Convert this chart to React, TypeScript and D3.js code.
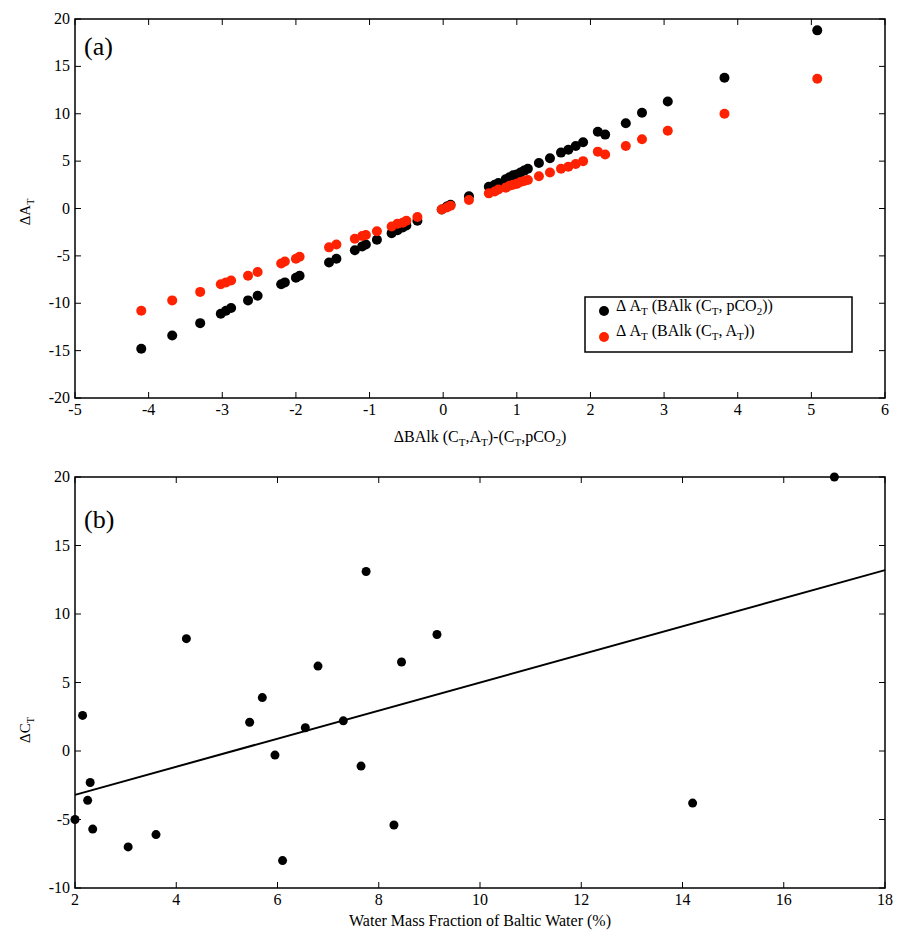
import React from "react"
import * as d3 from "d3"

const alkX = [-4.1, -3.68, -3.3, -3.02, -2.95, -2.88, -2.65, -2.52, -2.2, -2.15, -2.0, -1.95, -1.55, -1.45, -1.2, -1.1, -1.05, -0.9, -0.7, -0.62, -0.55, -0.5, -0.35, -0.02, 0.05, 0.1, 0.35, 0.62, 0.7, 0.75, 0.85, 0.9, 0.95, 1.0, 1.05, 1.1, 1.15, 1.3, 1.45, 1.6, 1.7, 1.8, 1.9, 2.1, 2.2, 2.48, 2.7, 3.05, 3.82, 5.08]
const blackY = [-14.8, -13.4, -12.1, -11.1, -10.8, -10.5, -9.7, -9.2, -8.0, -7.8, -7.3, -7.1, -5.7, -5.3, -4.4, -4.0, -3.8, -3.3, -2.6, -2.3, -2.0, -1.8, -1.3, -0.1, 0.2, 0.4, 1.3, 2.3, 2.5, 2.7, 3.1, 3.3, 3.5, 3.6, 3.8, 4.0, 4.2, 4.8, 5.3, 5.9, 6.2, 6.6, 7.0, 8.1, 7.8, 9.0, 10.1, 11.3, 13.8, 18.8]
const redY = [-10.8, -9.7, -8.8, -8.0, -7.8, -7.6, -7.1, -6.7, -5.8, -5.6, -5.3, -5.1, -4.1, -3.8, -3.2, -2.9, -2.8, -2.4, -1.9, -1.6, -1.5, -1.3, -0.9, -0.1, 0.1, 0.3, 0.9, 1.6, 1.8, 2.0, 2.2, 2.4, 2.5, 2.6, 2.8, 2.9, 3.0, 3.4, 3.8, 4.2, 4.4, 4.7, 5.0, 6.0, 5.7, 6.6, 7.3, 8.2, 10.0, 13.7]

const fracX = [2.0, 2.15, 2.25, 2.3, 2.35, 3.05, 3.6, 4.2, 5.45, 5.7, 5.95, 6.1, 6.55, 6.8, 7.3, 7.65, 7.75, 8.3, 8.45, 9.15, 14.2, 17.0]
const dCtY = [-5.0, 2.6, -3.6, -2.3, -5.7, -7.0, -6.1, 8.2, 2.1, 3.9, -0.3, -8.0, 1.7, 6.2, 2.2, -1.1, 13.1, -5.4, 6.5, 8.5, -3.8, 20.0]
const fitLine = [[2, -3.2], [18, 13.2]]

const ticksA_X = [-5, -4, -3, -2, -1, 0, 1, 2, 3, 4, 5, 6]
const ticksA_Y = [-20, -15, -10, -5, 0, 5, 10, 15, 20]
const ticksB_X = [2, 4, 6, 8, 10, 12, 14, 16, 18]
const ticksB_Y = [-10, -5, 0, 5, 10, 15, 20]

const font = "'Liberation Serif', serif"
const L = 75, R = 885

function Frame({ x, y, xt, yt, top, bottom }: any) {
  return (
    <g fontSize={16}>
      <rect x={L} y={top} width={R - L} height={bottom - top} fill="none" stroke="#000" strokeWidth={1.5} />
      {xt.map((t: number) => (
        <g key={"x" + t}>
          <line x1={x(t)} x2={x(t)} y1={top} y2={top + 6} stroke="#000" />
          <line x1={x(t)} x2={x(t)} y1={bottom} y2={bottom - 6} stroke="#000" />
          <text x={x(t)} y={bottom + 17} textAnchor="middle">{t}</text>
        </g>
      ))}
      {yt.map((t: number) => (
        <g key={"y" + t}>
          <line x1={L} x2={L + 6} y1={y(t)} y2={y(t)} stroke="#000" />
          <line x1={R} x2={R - 6} y1={y(t)} y2={y(t)} stroke="#000" />
          <text x={L - 5} y={y(t) + 5} textAnchor="end">{t}</text>
        </g>
      ))}
    </g>
  )
}

export default function App() {
  const xa = d3.scaleLinear().domain([-5, 6]).range([L, R])
  const ya = d3.scaleLinear().domain([-20, 20]).range([398, 19])
  const xb = d3.scaleLinear().domain([2, 18]).range([L, R])
  const yb = d3.scaleLinear().domain([-10, 20]).range([888, 477])
  const line = d3.line<number[]>().x((d) => xb(d[0])).y((d) => yb(d[1]))

  return (
    <svg width={903} height={933} style={{ position: "absolute", left: 0, top: 0, background: "#fff", fontFamily: font }}>
      <Frame x={xa} y={ya} xt={ticksA_X} yt={ticksA_Y} top={19} bottom={398} />
      {alkX.map((v, i) => <circle key={"b" + i} cx={xa(v)} cy={ya(blackY[i])} r={5} fill="#000" />)}
      {alkX.map((v, i) => <circle key={"r" + i} cx={xa(v)} cy={ya(redY[i])} r={5} fill="#ff2200" />)}
      <text x={84} y={55} fontSize={26}>(a)</text>
      <text transform="translate(30,212) rotate(-90)" fontSize={15} textAnchor="middle">ΔA<tspan fontSize={10} dy={4}>T</tspan></text>
      <text x={480} y={442} fontSize={16} textAnchor="middle">ΔBAlk (C<tspan fontSize={11} dy={4}>T</tspan><tspan dy={-4}>,A</tspan><tspan fontSize={11} dy={4}>T</tspan><tspan dy={-4}>)-(C</tspan><tspan fontSize={11} dy={4}>T</tspan><tspan dy={-4}>,pCO</tspan><tspan fontSize={11} dy={4}>2</tspan><tspan dy={-4}>)</tspan></text>
      <g fontSize={16}>
        <rect x={585} y={297} width={267} height={55} fill="#fff" stroke="#000" strokeWidth={1.5} />
        <circle cx={604} cy={311} r={5} fill="#000" />
        <text x={616} y={311}>Δ A<tspan fontSize={11} dy={4}>T</tspan><tspan dy={-4}> (BAlk (C</tspan><tspan fontSize={11} dy={4}>T</tspan><tspan dy={-4}>, pCO</tspan><tspan fontSize={11} dy={4}>2</tspan><tspan dy={-4}>))</tspan></text>
        <circle cx={604} cy={337} r={5} fill="#ff2200" />
        <text x={616} y={336}>Δ A<tspan fontSize={11} dy={4}>T</tspan><tspan dy={-4}> (BAlk (C</tspan><tspan fontSize={11} dy={4}>T</tspan><tspan dy={-4}>, A</tspan><tspan fontSize={11} dy={4}>T</tspan><tspan dy={-4}>))</tspan></text>
      </g>

      <Frame x={xb} y={yb} xt={ticksB_X} yt={ticksB_Y} top={477} bottom={888} />
      <path d={line(fitLine) || ""} stroke="#000" strokeWidth={2} fill="none" />
      {fracX.map((v, i) => <circle key={"c" + i} cx={xb(v)} cy={yb(dCtY[i])} r={4.5} fill="#000" />)}
      <text x={84} y={528} fontSize={26}>(b)</text>
      <text transform="translate(30,730) rotate(-90)" fontSize={15} textAnchor="middle">ΔC<tspan fontSize={10} dy={4}>T</tspan></text>
      <text x={480} y={926} fontSize={16} textAnchor="middle">Water Mass Fraction of Baltic Water (%)</text>
    </svg>
  )
}
